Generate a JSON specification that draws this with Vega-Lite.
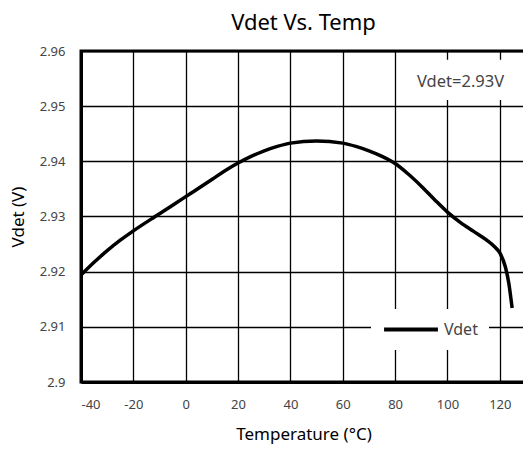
{
  "$schema": "https://vega.github.io/schema/vega-lite/v6.json",
  "autosize": "none",
  "width": 445,
  "height": 331,
  "padding": {"left": 81, "top": 51, "right": 0, "bottom": 68},
  "background": "white",
  "config": {
    "font": "Noto Sans",
    "view": {"stroke": "black", "strokeWidth": 3},
    "axis": {
      "grid": true,
      "gridColor": "black",
      "gridWidth": 1.3,
      "gridOpacity": 1,
      "domainColor": "black",
      "domainWidth": 3,
      "ticks": false,
      "labelColor": "#444",
      "labelFontSize": 13,
      "labelFont": "Noto Sans",
      "titleFont": "Noto Sans",
      "titleFontSize": 17,
      "titleFontWeight": "normal",
      "titleColor": "black"
    }
  },
  "title": {
    "text": "Vdet Vs. Temp",
    "fontSize": 22,
    "fontWeight": "normal",
    "font": "Noto Sans",
    "color": "black",
    "anchor": "middle",
    "offset": 10
  },
  "datasets": {
    "curve": [
      {"temp": -40, "vdet": 2.9194, "series": "Vdet"},
      {"temp": -35, "vdet": 2.9217, "series": "Vdet"},
      {"temp": -30, "vdet": 2.9238, "series": "Vdet"},
      {"temp": -25, "vdet": 2.9257, "series": "Vdet"},
      {"temp": -20, "vdet": 2.9274, "series": "Vdet"},
      {"temp": -10, "vdet": 2.9305, "series": "Vdet"},
      {"temp": 0, "vdet": 2.9336, "series": "Vdet"},
      {"temp": 10, "vdet": 2.9367, "series": "Vdet"},
      {"temp": 15, "vdet": 2.9383, "series": "Vdet"},
      {"temp": 20, "vdet": 2.9397, "series": "Vdet"},
      {"temp": 25, "vdet": 2.9409, "series": "Vdet"},
      {"temp": 30, "vdet": 2.9419, "series": "Vdet"},
      {"temp": 35, "vdet": 2.9427, "series": "Vdet"},
      {"temp": 40, "vdet": 2.9433, "series": "Vdet"},
      {"temp": 50, "vdet": 2.9437, "series": "Vdet"},
      {"temp": 60, "vdet": 2.9433, "series": "Vdet"},
      {"temp": 65, "vdet": 2.9427, "series": "Vdet"},
      {"temp": 70, "vdet": 2.9419, "series": "Vdet"},
      {"temp": 75, "vdet": 2.9409, "series": "Vdet"},
      {"temp": 80, "vdet": 2.9396, "series": "Vdet"},
      {"temp": 85, "vdet": 2.9377, "series": "Vdet"},
      {"temp": 90, "vdet": 2.9355, "series": "Vdet"},
      {"temp": 95, "vdet": 2.9331, "series": "Vdet"},
      {"temp": 100, "vdet": 2.9308, "series": "Vdet"},
      {"temp": 105, "vdet": 2.9289, "series": "Vdet"},
      {"temp": 110, "vdet": 2.9273, "series": "Vdet"},
      {"temp": 115, "vdet": 2.9257, "series": "Vdet"},
      {"temp": 118, "vdet": 2.9245, "series": "Vdet"},
      {"temp": 120, "vdet": 2.9234, "series": "Vdet"},
      {"temp": 122.1, "vdet": 2.9209, "series": "Vdet"},
      {"temp": 123.4, "vdet": 2.918, "series": "Vdet"},
      {"temp": 124.7, "vdet": 2.9134, "series": "Vdet"}
    ],
    "note": [{"label": "Vdet=2.93V"}]
  },
  "layer": [
    {
      "data": {"name": "note"},
      "mark": {"type": "rect", "fill": "white"},
      "encoding": {
        "x": {"datum": 86, "type": "quantitative"},
        "x2": {"datum": 130},
        "y": {"datum": 2.9511, "type": "quantitative"},
        "y2": {"datum": 2.9584}
      }
    },
    {
      "data": {"name": "note"},
      "mark": {"type": "text", "fontSize": 16.5, "fill": "#444", "font": "Noto Sans"},
      "encoding": {
        "text": {"field": "label"},
        "x": {"datum": 105, "type": "quantitative"},
        "y": {"datum": 2.9544, "type": "quantitative"}
      }
    },
    {
      "data": {"name": "curve"},
      "mark": {"type": "line", "strokeWidth": 3.5, "interpolate": "monotone"},
      "encoding": {
        "x": {
          "field": "temp",
          "type": "quantitative",
          "title": "Temperature (°C)",
          "scale": {"domain": [-40, 130], "nice": false, "zero": false},
          "axis": {
            "values": [-40, -20, 0, 20, 40, 60, 80, 100, 120],
            "labelExpr": "'' + datum.value",
            "labelPadding": 16,
            "titlePadding": 15
          }
        },
        "y": {
          "field": "vdet",
          "type": "quantitative",
          "title": "Vdet (V)",
          "scale": {"domain": [2.9, 2.96], "nice": false, "zero": false},
          "axis": {
            "values": [2.9, 2.91, 2.92, 2.93, 2.94, 2.95, 2.96],
            "format": ".2~f",
            "labelPadding": 16,
            "titlePadding": 12
          }
        },
        "color": {
          "field": "series",
          "type": "nominal",
          "scale": {"range": ["black"]},
          "legend": {
            "title": null,
            "orient": "none",
            "legendX": 290,
            "legendY": 258,
            "fillColor": "white",
            "padding": 11,
            "symbolType": "stroke",
            "symbolSize": 2900,
            "symbolStrokeWidth": 4,
            "clipHeight": 19,
            "labelFontSize": 16,
            "labelColor": "#444",
            "labelFont": "Noto Sans",
            "labelOffset": 4
          }
        }
      }
    }
  ]
}
